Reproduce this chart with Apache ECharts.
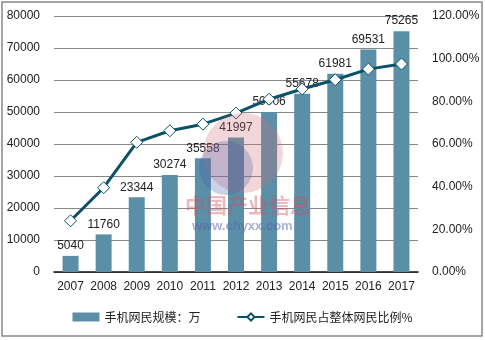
<!DOCTYPE html>
<html><head><meta charset="utf-8">
<script src="https://cdn.jsdelivr.net/npm/echarts@6/dist/echarts.min.js"></script>
<style>html,body{margin:0;padding:0;background:#fff}#c{width:485px;height:340px}</style>
</head><body><div id="c"></div>
<script>
const years = ['2007','2008','2009','2010','2011','2012','2013','2014','2015','2016','2017'];
const mobileUsers = [5040, 11760, 23344, 30274, 35558, 41997, 50006, 55678, 61981, 69531, 75265];
const mobileShare = [24.0, 39.5, 60.8, 66.2, 69.3, 74.5, 81.0, 85.8, 90.1, 95.1, 97.5];
const barName = '手机网民规模：万';
const lineName = '手机网民占整体网民比例%';

const chart = echarts.init(document.getElementById('c'));
const font = 'Arial, "Liberation Sans", sans-serif';
chart.setOption({
  animation: false,
  textStyle: {fontFamily: font},
  grid: {left: 54, right: 67, top: 16, bottom: 68},
  legend: {
    bottom: 12, left: 'center', itemGap: 36,
    textStyle: {fontSize: 12, color: '#222', fontFamily: '"Noto Sans CJK SC", sans-serif'},
    data: [
      {name: barName, icon: 'rect', itemStyle: {color: '#5b8fa8'}},
      {name: lineName}
    ],
    itemWidth: 27, itemHeight: 9
  },
  graphic: [
    {type: 'rect', shape: {x: 2, y: 2, width: 480, height: 334}, style: {fill: 'none', stroke: '#888', lineWidth: 1.5}, silent: true, z: 100},
    {type: 'circle', shape: {cx: 243, cy: 153, r: 40}, style: {fill: 'rgba(205,110,120,0.28)'}, silent: true, z: 100},
    {type: 'circle', shape: {cx: 226, cy: 168, r: 27}, style: {fill: 'rgba(70,90,170,0.28)'}, silent: true, z: 100},
    {type: 'text', left: 185, top: 195, style: {text: '中国产业信息', fontSize: 21, fontWeight: 'bold', fontFamily: '"Noto Sans CJK SC", sans-serif', fill: 'rgba(200,80,90,0.4)'}, silent: true, z: 100},
    {type: 'text', left: 192, top: 220, style: {text: 'www.chyxx.com', fontSize: 13, fontWeight: 'bold', fontFamily: 'Arial, "Liberation Sans"', fill: 'rgba(80,100,170,0.5)'}, silent: true, z: 100}
  ],
  xAxis: {
    type: 'category', data: years,
    axisLine: {lineStyle: {color: '#111', width: 1.5}},
    axisTick: {show: false},
    axisLabel: {color: '#222', fontSize: 12, margin: 9, interval: 0}
  },
  yAxis: [
    {type: 'value', min: 0, max: 80000, interval: 10000,
     axisLine: {show: false}, axisTick: {show: false},
     axisLabel: {color: '#222', fontSize: 12, margin: 14, formatter: v => String(v)},
     splitLine: {lineStyle: {color: '#888', width: 1}}},
    {type: 'value', min: 0, max: 120, interval: 20,
     axisLine: {show: false}, axisTick: {show: false},
     axisLabel: {color: '#222', fontSize: 12, margin: 14, formatter: v => v.toFixed(2) + '%'},
     splitLine: {show: false}}
  ],
  series: [
    {name: barName, type: 'bar', data: mobileUsers, barWidth: 16,
     itemStyle: {color: '#5b8fa8'},
     label: {show: true, position: 'top', color: '#222', fontSize: 12, distance: 4}},
    {name: lineName, type: 'line', yAxisIndex: 1, data: mobileShare,
     lineStyle: {color: '#0d5168', width: 3},
     itemStyle: {color: '#fff', borderColor: '#0d5168', borderWidth: 1},
     symbol: 'diamond', symbolSize: 12, showAllSymbol: true, z: 5}
  ]
});
</script></body></html>
